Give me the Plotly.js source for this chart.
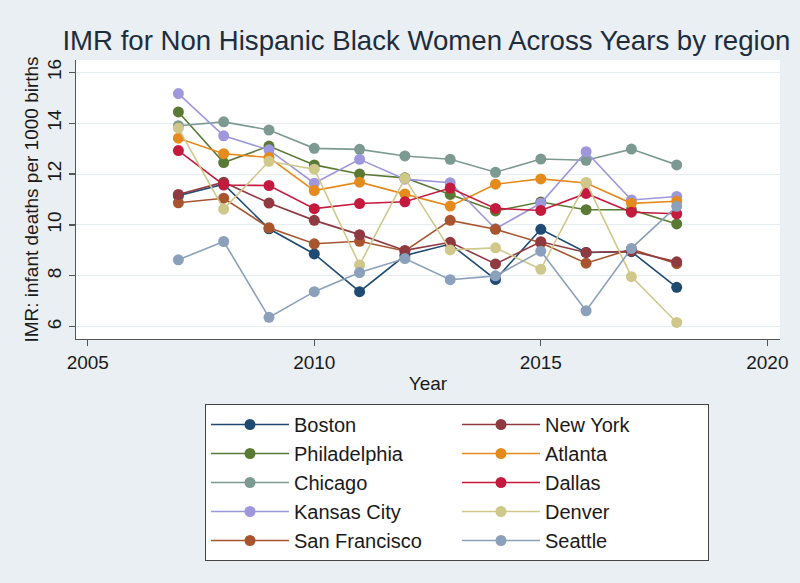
<!DOCTYPE html>
<html>
<head>
<meta charset="utf-8">
<script src="https://cdn.plot.ly/plotly-3.0.1.min.js"></script>
<style>
  html, body { margin: 0; padding: 0; background: #ffffff; }
  #chart { width: 800px; height: 583px; }
</style>
</head>
<body>
<div id="chart"></div>
<script>
// Infant mortality rate (deaths per 1000 births), non-Hispanic Black women, 2007-2018
const years = [2007, 2008, 2009, 2010, 2011, 2012, 2013, 2014, 2015, 2016, 2017, 2018];

const boston       = [11.15, 11.60, 9.85, 8.86, 7.38, 8.80, 9.25, 7.86, 9.83, 8.92, 8.95, 7.55];
const philadelphia = [14.44, 12.45, 13.10, 12.36, 12.00, 11.85, 11.20, 10.55, 10.90, 10.60, 10.60, 10.04];
const chicago      = [13.90, 14.05, 13.73, 13.01, 12.97, 12.71, 12.58, 12.07, 12.59, 12.54, 12.98, 12.36];
const kansasCity   = [15.16, 13.50, 12.95, 11.64, 12.58, 11.80, 11.66, 9.85, 10.85, 12.88, 10.98, 11.12];
const sanFrancisco = [10.87, 11.05, 9.89, 9.26, 9.36, 8.98, 10.18, 9.83, 9.30, 8.50, 9.05, 8.48];
const newYork      = [11.20, 11.68, 10.86, 10.18, 9.62, 9.00, 9.32, 8.47, 9.34, 8.92, 8.97, 8.55];
const atlanta      = [13.41, 12.80, 12.65, 11.35, 11.68, 11.22, 10.74, 11.60, 11.81, 11.65, 10.85, 10.93];
const dallas       = [12.92, 11.57, 11.55, 10.64, 10.84, 10.91, 11.45, 10.65, 10.57, 11.24, 10.50, 10.44];
const denver       = [13.80, 10.62, 12.50, 12.19, 8.43, 11.83, 9.02, 9.10, 8.26, 11.67, 7.97, 6.17];
const seattle      = [8.63, 9.35, 6.37, 7.38, 8.13, 8.68, 7.85, 8.00, 8.97, 6.63, 9.08, 10.73];

const regionNames = ["Boston", "Philadelphia", "Chicago", "Kansas City", "San Francisco",
                     "New York", "Atlanta", "Dallas", "Denver", "Seattle"];
const regionValues = [boston, philadelphia, chicago, kansasCity, sanFrancisco,
                      newYork, atlanta, dallas, denver, seattle];

// s2color-style palette
const regionColors = ["#1f4a72", "#5a7a34", "#7c9a92", "#9d97dc", "#a8552f",
                      "#8f3a40", "#e58a1c", "#c41a3e", "#cfc88a", "#8aa0bb"];
// legend reads row by row: Boston, New York / Philadelphia, Atlanta / ...
const legendRanks = [1, 3, 5, 7, 9, 2, 4, 6, 8, 10];

const traces = regionNames.map((name, i) => ({
  type: "scatter",
  mode: "lines+markers",
  name: name,
  x: years,
  y: regionValues[i],
  legendrank: legendRanks[i],
  line: { color: regionColors[i], width: 1.6 },
  marker: { color: regionColors[i], size: 11, line: { width: 0 } },
  hoverinfo: "x+y+name"
}));

const fontFamily = "Liberation Sans, Arial, Helvetica, sans-serif";

const layout = {
  width: 800,
  height: 583,
  paper_bgcolor: "#e9eff2",
  plot_bgcolor: "#ffffff",
  margin: { l: 76, r: 20, t: 60, b: 244, pad: 0, autoexpand: false },
  font: { family: fontFamily, size: 20, color: "#1a1a1a" },
  title: {
    text: "IMR for Non Hispanic Black Women Across Years by region",
    font: { family: fontFamily, size: 27.6, color: "#1e2d3d" },
    x: 0.533, xref: "container", xanchor: "center",
    y: 0.931, yref: "container", yanchor: "middle"
  },
  xaxis: {
    range: [2004.74, 2020.28],
    tickmode: "array",
    tickvals: [2005, 2010, 2015, 2020],
    ticktext: ["2005", "2010", "2015", "2020"],
    ticks: "outside", ticklen: 6, tickwidth: 1.2, tickcolor: "#555555",
    showline: true, linecolor: "#555555", linewidth: 1.2,
    showgrid: false, zeroline: false,
    tickfont: { size: 19, color: "#1a1a1a" },
    title: { text: "Year", font: { size: 19, color: "#1a1a1a" }, standoff: 4 }
  },
  yaxis: {
    range: [5.52, 16.48],
    tickmode: "array",
    tickvals: [6, 8, 10, 12, 14, 16],
    ticktext: ["6", "8", "10", "12", "14", "16"],
    tickangle: -90,
    ticks: "outside", ticklen: 6, tickwidth: 1.2, tickcolor: "#555555",
    showline: true, linecolor: "#555555", linewidth: 1.2,
    showgrid: true, gridcolor: "#e6edf0", gridwidth: 1,
    zeroline: false,
    tickfont: { size: 19, color: "#1a1a1a" },
    title: { text: "IMR: infant deaths per 1000 births", font: { size: 19, color: "#1a1a1a" }, standoff: 0 }
  },
  showlegend: true,
  legend: {
    orientation: "h",
    x: 0.1832, xanchor: "left",
    y: -0.2330, yanchor: "top",
    bgcolor: "#ffffff",
    bordercolor: "#444444",
    borderwidth: 1,
    traceorder: "normal",
    entrywidth: 158,
    entrywidthmode: "pixels",
    itemwidth: 78,
    font: { size: 20, color: "#1a1a1a" }
  }
};

Plotly.newPlot("chart", traces, layout, { displayModeBar: false, staticPlot: true });
</script>
</body>
</html>
